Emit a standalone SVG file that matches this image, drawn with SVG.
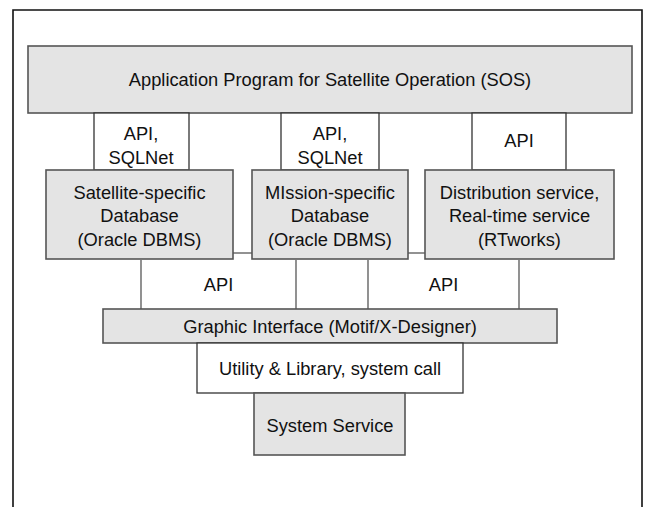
<svg xmlns="http://www.w3.org/2000/svg" width="653" height="507" viewBox="0 0 653 507">
<style>
.g{fill:#e4e4e4;stroke:#555;stroke-width:1.6}
.w{fill:#fff;stroke:#333;stroke-width:1.3}
.c{fill:none;stroke:#777;stroke-width:1.6}
text{font-family:"Liberation Sans",Arial,sans-serif;font-size:18.3px;fill:#111;text-anchor:middle}
</style>
<rect width="653" height="507" fill="#fff"/>
<path d="M13 507 V10 H642 V507" fill="none" stroke="#111" stroke-width="1.6"/>
<g id="connectors">
<line class="c" x1="233" y1="253" x2="252" y2="253"/>
<line class="c" x1="408" y1="253" x2="425" y2="253"/>
</g>
<g id="app"><rect class="g" x="28" y="46" width="604" height="67"/><text x="330" y="85.5">Application Program for Satellite Operation (SOS)</text></g>
<g id="api1"><rect class="w" x="94" y="113" width="95" height="57"/><text x="141" y="139.5">API,</text><text x="141" y="163.5">SQLNet</text></g>
<g id="api2"><rect class="w" x="281" y="113" width="98" height="57"/><text x="330" y="139.5">API,</text><text x="330" y="163.5">SQLNet</text></g>
<g id="api3"><rect class="w" x="472" y="113" width="94" height="57"/><text x="519" y="146.5">API</text></g>
<g id="satdb"><rect class="g" x="46" y="170" width="187" height="89"/><text x="139.5" y="198.5">Satellite-specific</text><text x="139.5" y="222">Database</text><text x="139.5" y="246">(Oracle DBMS)</text></g>
<g id="misdb"><rect class="g" x="252" y="170" width="156" height="89"/><text x="330" y="198.5">MIssion-specific</text><text x="330" y="222">Database</text><text x="330" y="246">(Oracle DBMS)</text></g>
<g id="dist"><rect class="g" x="425" y="170" width="189" height="89"/><text x="519.5" y="198.5">Distribution service,</text><text x="519.5" y="222">Real-time service</text><text x="519.5" y="246">(RTworks)</text></g>
<g id="api4"><path class="c" d="M141 259 V309 M296 259 V309"/><text x="218.5" y="290.5">API</text></g>
<g id="api5"><path class="c" d="M368 259 V309 M519 259 V309"/><text x="443.5" y="290.5">API</text></g>
<g id="gui"><rect class="g" x="103" y="309" width="454" height="34"/><text x="330" y="332.5">Graphic Interface (Motif/X-Designer)</text></g>
<g id="util"><rect class="w" x="197" y="343" width="266" height="50"/><text x="330" y="374.5">Utility &amp; Library, system call</text></g>
<g id="sys"><rect class="g" x="254" y="393" width="151" height="62"/><text x="330" y="431.5">System Service</text></g>
</svg>
